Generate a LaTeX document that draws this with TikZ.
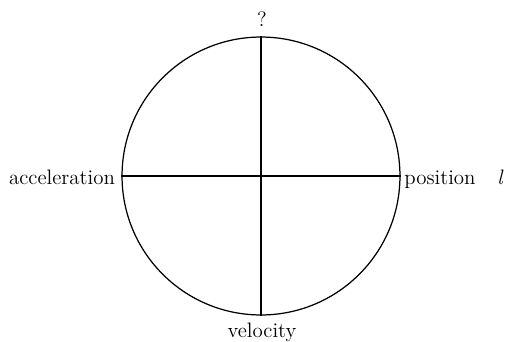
\documentclass[tikz,border=0pt]{standalone}
\usepackage{tikz}
\usetikzlibrary{positioning}

\begin{document}
\begin{tikzpicture}[x=0.0185cm,y=-0.0185cm,
    lbl/.style={font=\fontsize{11}{13}\selectfont,inner sep=0pt,anchor=base}]
  \useasboundingbox (0,0) rectangle (505,341);
  \node[circle,draw,line width=0.65pt,inner sep=0pt,minimum size=5.14cm] (wheel) at (261,176) {};
  \draw[line width=0.6pt] (wheel.north)--(wheel.south);
  \draw[line width=0.6pt] (wheel.west)--(wheel.east);
  \node[lbl] (quest) at (262,26) {?};
  \node[lbl] (accel) at (62,184) {acceleration};
  \node[lbl] (posit) at (440,184) {position};
  \node[lbl] (veloc) at (262,337) {velocity};
  \node[lbl,anchor=base west] (ell) at (497,184) {\itshape l};
\end{tikzpicture}
\end{document}
